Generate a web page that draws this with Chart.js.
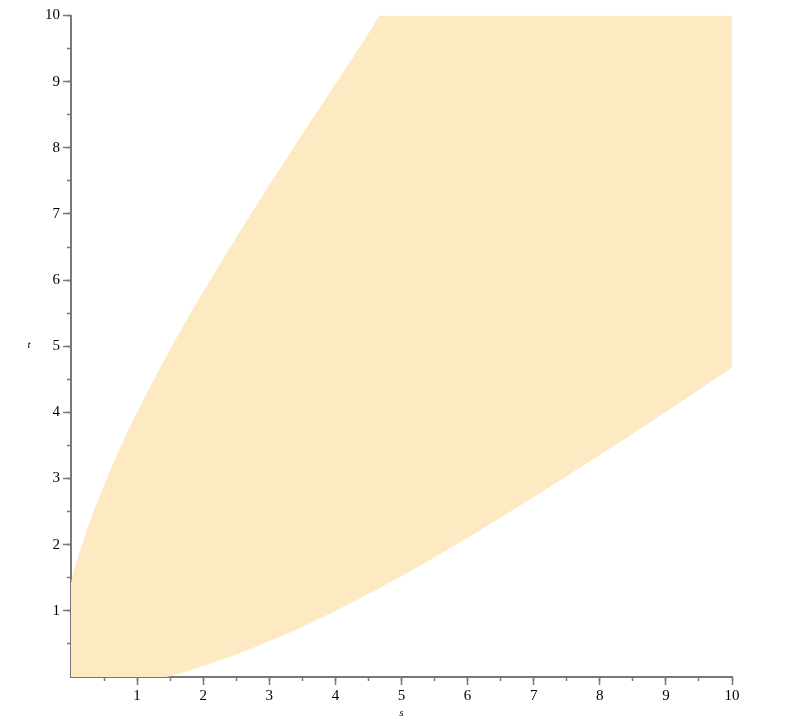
<!DOCTYPE html>
<html>
<head>
<meta charset="utf-8">
<script src="https://cdn.jsdelivr.net/npm/chart.js@4/dist/chart.umd.min.js"></script>
<style>
  html, body { margin: 0; padding: 0; background: #ffffff; }
  #wrap { width: 806px; height: 725px; position: relative; }
</style>
</head>
<body>
<div id="wrap"><canvas id="c" width="806" height="725"></canvas></div>
<script>
// Upper boundary of the shaded region (s -> t)
const sUpper = [0, 0.04, 0.14, 0.325, 0.53, 0.78, 1.10, 1.52, 1.92, 2.76, 3.41, 4.07, 4.56, 4.68, 10];
const tUpper = [1.42, 1.6, 1.92, 2.46, 2.97, 3.55, 4.20, 4.99, 5.69, 7.06, 8.07, 9.07, 9.82, 10, 10];
// Lower boundary of the shaded region (s -> t)
const sLower = [0, 1.44, 1.6, 1.92, 2.46, 2.97, 3.55, 4.20, 4.99, 5.69, 7.06, 8.70, 10];
const tLower = [0, 0, 0.04, 0.14, 0.325, 0.53, 0.78, 1.10, 1.52, 1.92, 2.76, 3.81, 4.68];
// Tick labels
const sTickLabels = ['1', '2', '3', '4', '5', '6', '7', '8', '9', '10'];
const tTickLabels = ['1', '2', '3', '4', '5', '6', '7', '8', '9', '10'];
const sTitle = 's';
const tTitle = 't';

const FILL = 'rgb(253,234,195)';
const AXIS = 'rgb(120,120,120)';
const FONT = "'Liberation Serif', 'Times New Roman', serif";

const upperPts = sUpper.map((s, i) => ({ x: s, y: tUpper[i] }));
const lowerPts = sLower.map((s, i) => ({ x: s, y: tLower[i] }));

function labelFor(arr) {
  return function (v) {
    if (Number.isInteger(v) && v >= 1 && v <= arr.length) return arr[v - 1];
    return '';
  };
}
const tickCol = (c) => (c.tick && c.tick.value === 0) ? 'rgba(0,0,0,0)' : AXIS;

const titlesPlugin = {
  id: 'axisTitles',
  afterDraw(chart) {
    const ctx = chart.ctx;
    const xs = chart.scales.x, ys = chart.scales.y;
    ctx.save();
    ctx.fillStyle = '#000';
    ctx.font = "italic 11px " + FONT;
    ctx.textAlign = 'center';
    ctx.textBaseline = 'alphabetic';
    ctx.fillText(sTitle, xs.getPixelForValue(5), 716);
    ctx.fillText(tTitle, 29, ys.getPixelForValue(5) + 1.5);
    ctx.restore();
  }
};

new Chart(document.getElementById('c'), {
  type: 'line',
  data: {
    datasets: [
      {
        label: 'upper',
        data: upperPts,
        borderColor: 'rgba(0,0,0,0)',
        borderWidth: 0,
        pointRadius: 0,
        cubicInterpolationMode: 'monotone',
        fill: false
      },
      {
        label: 'lower',
        data: lowerPts,
        borderColor: 'rgba(0,0,0,0)',
        borderWidth: 0,
        pointRadius: 0,
        cubicInterpolationMode: 'monotone',
        backgroundColor: FILL,
        fill: '-1'
      }
    ]
  },
  options: {
    responsive: false,
    animation: false,
    events: [],
    layout: { padding: { top: 15.5, right: 74, left: 0, bottom: 0 } },
    plugins: { legend: { display: false }, tooltip: { enabled: false } },
    scales: {
      x: {
        type: 'linear', position: 'bottom', min: 0, max: 10, weight: 1, z: 1,
        afterFit(s) { s.height = 48; },
        border: { display: true, color: AXIS, width: 2 },
        grid: { drawOnChartArea: false, drawTicks: true, tickLength: 8, tickWidth: 1.5, tickColor: tickCol },
        ticks: { stepSize: 1, padding: 2, color: '#000', font: { family: FONT, size: 15 }, maxRotation: 0, autoSkip: false, callback: labelFor(sTickLabels) }
      },
      xm: {
        type: 'linear', position: 'bottom', min: 0, max: 10, weight: 0, z: 1,
        afterFit(s) { s.height = 0; },
        border: { display: false },
        grid: { drawOnChartArea: false, drawTicks: true, tickLength: 4, tickWidth: 1.5, tickColor: tickCol },
        ticks: { stepSize: 0.5, display: false, autoSkip: false }
      },
      y: {
        type: 'linear', position: 'left', min: 0, max: 10, weight: 1, z: 1,
        afterFit(s) { s.width = 71; },
        border: { display: true, color: AXIS, width: 2 },
        grid: { drawOnChartArea: false, drawTicks: true, tickLength: 8, tickWidth: 1.5, tickColor: tickCol },
        ticks: { stepSize: 1, padding: 3, color: '#000', font: { family: FONT, size: 15 }, autoSkip: false, callback: labelFor(tTickLabels) }
      },
      ym: {
        type: 'linear', position: 'left', min: 0, max: 10, weight: 0, z: 1,
        afterFit(s) { s.width = 0; },
        border: { display: false },
        grid: { drawOnChartArea: false, drawTicks: true, tickLength: 4, tickWidth: 1.5, tickColor: tickCol },
        ticks: { stepSize: 0.5, display: false, autoSkip: false }
      }
    }
  },
  plugins: [titlesPlugin]
});
</script>
</body>
</html>
